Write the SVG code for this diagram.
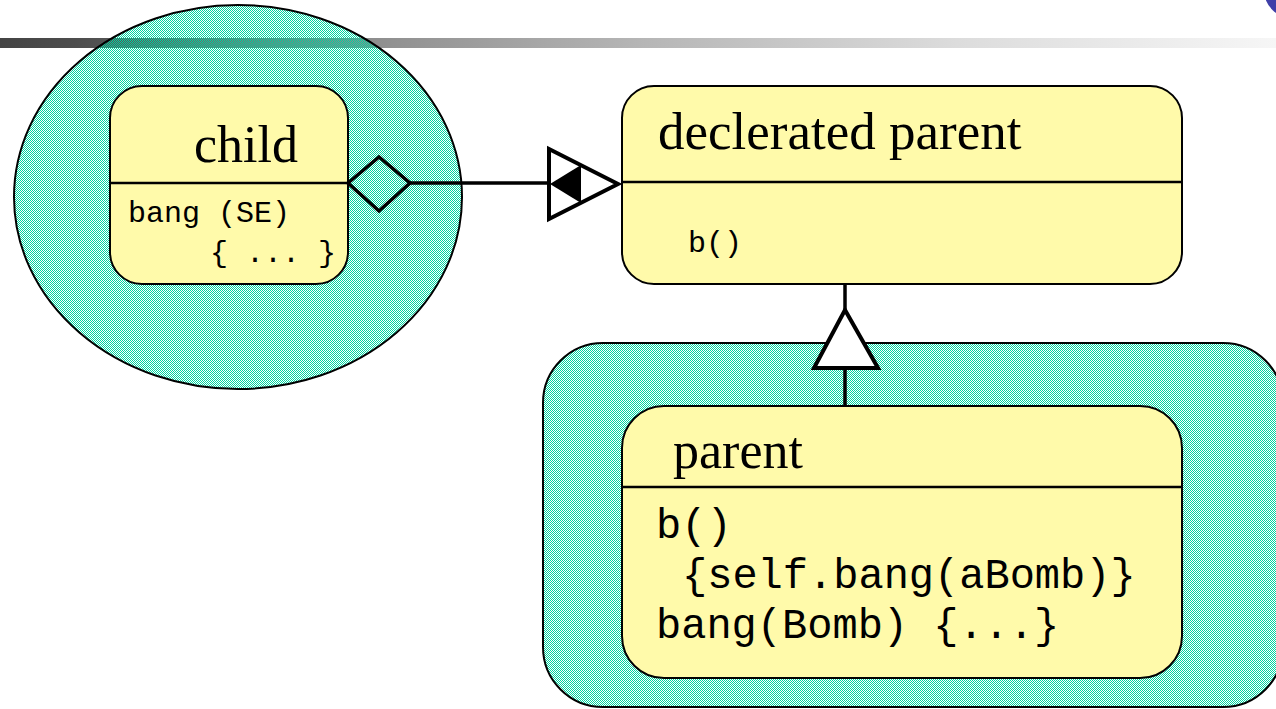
<svg xmlns="http://www.w3.org/2000/svg" width="1276" height="709" viewBox="0 0 1276 709">
<defs>
<style>
.serif{font-family:"Liberation Serif","Times New Roman",serif;font-size:52px;fill:#000}
.mono{font-family:"Liberation Mono","Courier New",monospace;fill:#000}
.box{fill:#FFFAAA;stroke:#000;stroke-width:2}
.div{stroke:#000;stroke-width:2.5}
.teal{fill:url(#check);stroke:#000;stroke-width:2}
.conn{stroke:#000;stroke-width:3.5;fill:none}
.head{stroke:#000;stroke-width:4;fill:#fff;stroke-linejoin:miter}
</style>
<pattern id="check" x="0" y="0" width="2" height="2" patternUnits="userSpaceOnUse">
<rect x="0" y="0" width="1" height="1" fill="#00D4A0"/>
<rect x="1" y="1" width="1" height="1" fill="#00D4A0"/>
</pattern>
<linearGradient id="bar" x1="0" y1="0" x2="1" y2="0">
<stop offset="0" stop-color="#444444"/>
<stop offset="0.06" stop-color="#4d4d4d"/>
<stop offset="0.27" stop-color="#8a8a8a"/>
<stop offset="0.5" stop-color="#b5b5b5"/>
<stop offset="0.75" stop-color="#dcdcdc"/>
<stop offset="1" stop-color="#f6f6f6"/>
</linearGradient>
</defs>
<rect x="0" y="0" width="1276" height="709" fill="#fff"/>
<rect x="0" y="38" width="1276" height="10" fill="url(#bar)"/>
<circle cx="1292" cy="-10" r="28" fill="#3f3fa8"/>

<g id="child-scope">
<ellipse class="teal" cx="238" cy="197" rx="224" ry="192"/>
</g>
<g id="parent-scope">
<rect class="teal" x="543" y="343" width="740" height="364" rx="60" ry="60"/>
</g>

<g id="child">
<rect class="box" x="110" y="86" width="238" height="198" rx="32" ry="32"/>
<line class="div" x1="110" y1="183" x2="348" y2="183"/>
<text class="serif" x="194" y="162">child</text>
<text class="mono" x="128" y="222" font-size="30">bang (SE)</text>
<text class="mono" x="210" y="262" font-size="30">{ ... }</text>
</g>

<g id="declerated-parent">
<rect class="box" x="622" y="86" width="560" height="198" rx="32" ry="32"/>
<line class="div" x1="622" y1="182" x2="1182" y2="182"/>
<text class="serif" x="658" y="149" style="font-size:53px">declerated parent</text>
<text class="mono" x="688" y="252" font-size="30">b()</text>
</g>

<g id="parent">
<rect class="box" x="622" y="406" width="560" height="272" rx="42" ry="42"/>
<line class="div" x1="622" y1="487" x2="1182" y2="487"/>
<text class="serif" x="673" y="468">parent</text>
<text class="mono" x="656" y="538" font-size="42">b()</text>
<text class="mono" x="682" y="588" font-size="42">{self.bang(aBomb)}</text>
<text class="mono" x="656" y="638" font-size="42">bang(Bomb) {...}</text>
</g>

<g id="connectors">
<line class="conn" x1="410" y1="183" x2="548" y2="183"/>
<polygon class="conn" points="348,183 379,157 410,183 379,211"/>
<polygon class="head" points="549,149 549,219 618,184"/>
<polygon fill="#000" points="550,184 581,165 581,203"/>
<line class="conn" x1="845" y1="285" x2="845" y2="312"/>
<polygon class="head" points="845,310 814,368 878,368"/>
<line class="conn" x1="845" y1="368" x2="845" y2="406"/>
</g>
</svg>
